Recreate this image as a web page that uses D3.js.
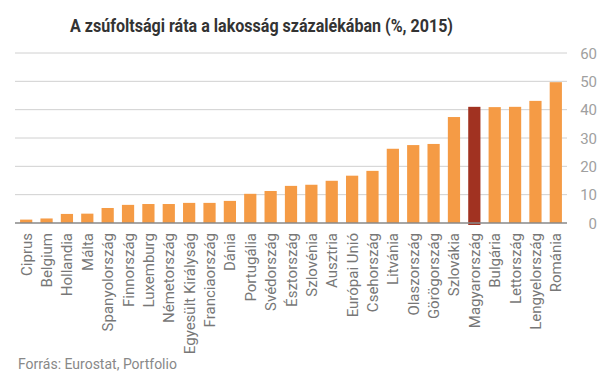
<!DOCTYPE html>
<html lang="hu">
<head>
<meta charset="utf-8">
<title>Zsúfoltsági ráta</title>
<script src="https://cdn.jsdelivr.net/npm/d3@7"></script>
<style>
  body { margin: 0; background: #fff; font-family: Roboto, "Noto Sans", sans-serif; }
  .title { font-weight: bold; font-size: 18px; fill: #333; }
  .ytick text { font-size: 15px; fill: #a0a0a0; }
  .xtick text { font-size: 15px; fill: #777; }
  .source { font-size: 14px; fill: #888; }
</style>
</head>
<body>
<div id="chart"></div>
<script>
var countries = ["Ciprus", "Belgium", "Hollandia", "Málta", "Spanyolország", "Finnország",
  "Luxemburg", "Németország", "Egyesült Királyság", "Franciaország", "Dánia", "Portugália",
  "Svédország", "Észtország", "Szlovénia", "Ausztria", "Európai Unió", "Csehország",
  "Litvánia", "Olaszország", "Görögország", "Szlovákia", "Magyarország", "Bulgária",
  "Lettország", "Lengyelország", "Románia"];
var values = [1.2, 1.6, 3.2, 3.3, 5.3, 6.4, 6.7, 6.7, 7.1, 7.1, 7.8, 10.3, 11.3, 13.1, 13.5,
  14.9, 16.7, 18.4, 26.2, 27.5, 27.9, 37.4, 41.0, 40.9, 41.0, 43.1, 49.7];
var yTicks = [0, 10, 20, 30, 40, 50, 60];
var highlight = "Magyarország";

var w = 607, h = 380;
var svg = d3.select("#chart").append("svg")
  .attr("width", w)
  .attr("height", h);

var x = d3.scaleBand()
  .domain(countries)
  .range([16, 566])
  .paddingInner(0.4)
  .paddingOuter(0.2);

var y = d3.scaleLinear()
  .domain([0, 60])
  .range([223, 53]);

svg.append("text")
  .attr("class", "title")
  .attr("x", 70)
  .attr("y", 32)
  .attr("textLength", 383)
  .attr("lengthAdjust", "spacingAndGlyphs")
  .text("A zsúfoltsági ráta a lakosság százalékában (%, 2015)");

// gridlines + right-hand labels
var yt = svg.selectAll(".ytick")
  .data(yTicks)
  .enter()
  .append("g")
  .attr("class", "ytick")
  .attr("transform", function(d){ return "translate(0," + y(d) + ")"; });

yt.append("line")
  .attr("x1", 15)
  .attr("x2", 567)
  .attr("stroke", function(d){ return d === 0 ? "#fff" : "#d0d0d0"; })
  .attr("stroke-width", 1);

yt.append("text")
  .attr("x", 597)
  .attr("y", 5.5)
  .attr("text-anchor", "end")
  .text(function(d){ return d; });

svg.selectAll("rect")
  .data(countries)
  .enter()
  .append("rect")
  .attr("x", function(d){ return x(d); })
  .attr("y", function(d, i){ return y(values[i]); })
  .attr("width", x.bandwidth())
  .attr("height", function(d, i){
    return y(0) - y(values[i]) + (d === highlight ? 2 : 0);
  })
  .attr("fill", function(d){ return d === highlight ? "#A13221" : "#F59B45"; });

// zero axis on top of the bars
svg.append("line")
  .attr("x1", 15)
  .attr("x2", 567)
  .attr("y1", y(0))
  .attr("y2", y(0))
  .attr("stroke", "#888")
  .attr("stroke-width", 1.5);

var xt = svg.selectAll(".xtick")
  .data(countries)
  .enter()
  .append("g")
  .attr("class", "xtick")
  .attr("transform", function(d){
    return "translate(" + (x(d) + x.bandwidth() / 2 + 5.5) + ",233) rotate(-90)";
  });

xt.append("text")
  .attr("text-anchor", "end")
  .text(function(d){ return d; });

svg.append("text")
  .attr("class", "source")
  .attr("x", 18)
  .attr("y", 369)
  .text("Forrás: Eurostat, Portfolio");
</script>
</body>
</html>
